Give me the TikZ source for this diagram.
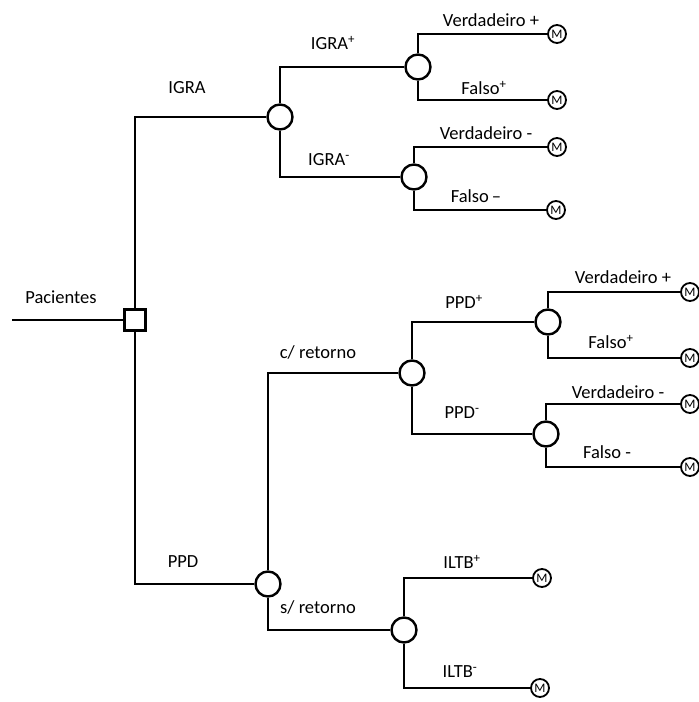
\documentclass[tikz,border=0pt]{standalone}
\usepackage{fontspec}
\setmainfont{Carlito}
\begin{document}
\begin{tikzpicture}[x=1pt,y=-1pt,
  edge/.style={line width=2.8pt},
  chance/.style={circle,draw,line width=2.4pt,minimum size=25pt,inner sep=0pt,fill=white},
  decision/.style={rectangle,draw,line width=2.4pt,minimum size=21pt,inner sep=0pt,fill=white},
  term/.style={circle,draw,line width=1.8pt,minimum size=18pt,inner sep=0pt,fill=white,font=\fontsize{13}{14}\selectfont},
  lbl/.style={font=\fontsize{18.5}{20}\selectfont,inner sep=0pt}]
\useasboundingbox (0,0) rectangle (699,702);
% nodes
\coordinate (start) at (12,320);
\node[decision] (sq) at (135,320) {};
\node[chance] (c1) at (280,117) {};
\node[chance] (c2) at (418,67) {};
\node[chance] (c3) at (414,177) {};
\node[chance] (c4) at (268,584) {};
\node[chance] (c5) at (412,373) {};
\node[chance] (c6) at (548,322) {};
\node[chance] (c7) at (546,434) {};
\node[chance] (c8) at (404,630) {};
\node[term] (m1) at (557,34) {M};
\node[term] (m2) at (557,100) {M};
\node[term] (m3) at (557,147) {M};
\node[term] (m4) at (556,210) {M};
\node[term] (m5) at (690,292) {M};
\node[term] (m6) at (690,358) {M};
\node[term] (m7) at (690,404) {M};
\node[term] (m8) at (690,467) {M};
\node[term] (m9) at (542,578) {M};
\node[term] (m10) at (540,688) {M};
% connectors
\draw[edge] (start) -- (sq);
\draw[edge] (sq) |- (c1);
\draw[edge] (sq) |- (c4);
\draw[edge] (c1) |- (c2);
\draw[edge] (c1) |- (c3);
\draw[edge] (c2) |- (m1);
\draw[edge] (c2) |- (m2);
\draw[edge] (c3) |- (m3);
\draw[edge] (c3) |- (m4);
\draw[edge] (c4) |- (c5);
\draw[edge] (c4) |- (c8);
\draw[edge] (c5) |- (c6);
\draw[edge] (c5) |- (c7);
\draw[edge] (c6) |- (m5);
\draw[edge] (c6) |- (m6);
\draw[edge] (c7) |- (m7);
\draw[edge] (c7) |- (m8);
\draw[edge] (c8) |- (m9);
\draw[edge] (c8) |- (m10);
% labels
\node[lbl] (lp) at (61,297) {Pacientes};
\node[lbl] (l1) at (187,88) {IGRA};
\node[lbl] (l2) at (333,43) {IGRA\textsuperscript{+}};
\node[lbl] (l3) at (329,160) {IGRA\textsuperscript{-}};
\node[lbl] (l4) at (491,20) {Verdadeiro +};
\node[lbl] (l5) at (484,88) {Falso\textsuperscript{+}};
\node[lbl] (l6) at (486,133) {Verdadeiro -};
\node[lbl] (l7) at (476,196) {Falso\,--};
\node[lbl] (l8) at (183,562) {PPD};
\node[lbl] (l9) at (318,352) {c/ retorno};
\node[lbl] (l10) at (318,607) {s/ retorno};
\node[lbl] (l11) at (464,302) {PPD\textsuperscript{+}};
\node[lbl] (l12) at (462,413) {PPD\textsuperscript{-}};
\node[lbl] (l13) at (623,277) {Verdadeiro +};
\node[lbl] (l14) at (611,342) {Falso\textsuperscript{+}};
\node[lbl] (l15) at (618,392) {Verdadeiro -};
\node[lbl] (l16) at (607,452) {Falso -};
\node[lbl] (l17) at (462,562) {ILTB\textsuperscript{+}};
\node[lbl] (l18) at (460,672) {ILTB\textsuperscript{-}};
\end{tikzpicture}
\end{document}
